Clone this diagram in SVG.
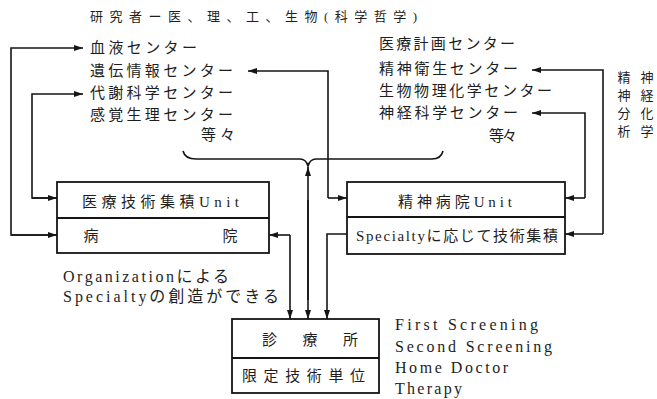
<svg xmlns="http://www.w3.org/2000/svg" width="657" height="399" viewBox="0 0 657 399">
<style>
  .t { font-family: "Liberation Serif", "Noto Sans CJK JP", serif; fill: #1e1e1e; }
  .j14 { font-size: 15px; }
  .j13 { font-size: 13px; }
  .e { font-family: "Liberation Serif", serif; font-size: 16px; fill: #1e1e1e; }
  .box { fill: #fff; stroke: #151515; stroke-width: 1.8; }
  .div { stroke: #151515; stroke-width: 1.8; }
  .ln { fill: none; stroke: #151515; stroke-width: 1.6; }
</style>
<defs>
  <marker id="ah" markerUnits="userSpaceOnUse" markerWidth="10" markerHeight="8" refX="9" refY="4" orient="auto">
    <path d="M0,1 L9,4 L0,7 Z" fill="#151515"/>
  </marker>
</defs>
<rect width="657" height="399" fill="#fff"/>

<g id="title">
  <text class="t j13" x="90" y="21" textLength="327" lengthAdjust="spacing">研究者ー医、理、工、生物(科学哲学)</text>
</g>

<g id="left-centers">
  <text class="t j14" x="90" y="53" textLength="107" lengthAdjust="spacing">血液センター</text>
  <text class="t j14" x="90" y="76" textLength="143" lengthAdjust="spacing">遺伝情報センター</text>
  <text class="t j14" x="90" y="98" textLength="143" lengthAdjust="spacing">代謝科学センター</text>
  <text class="t j14" x="90" y="120" textLength="143" lengthAdjust="spacing">感覚生理センター</text>
  <text class="t j14" x="201" y="140" textLength="34" lengthAdjust="spacing">等々</text>
</g>

<g id="right-centers">
  <text class="t j14" x="379" y="49" textLength="136" lengthAdjust="spacing">医療計画センター</text>
  <text class="t j14" x="379" y="74" textLength="139" lengthAdjust="spacing">精神衛生センター</text>
  <text class="t j14" x="379" y="96" textLength="173" lengthAdjust="spacing">生物物理化学センター</text>
  <text class="t j14" x="379" y="118" textLength="139" lengthAdjust="spacing">神経科学センター</text>
  <text class="t j14" x="489" y="141" textLength="28" lengthAdjust="spacing">等々</text>
</g>

<g id="vertical-label">
  <text class="t j13" text-anchor="middle"><tspan x="624" y="82">精</tspan><tspan x="624" y="100">神</tspan><tspan x="624" y="118">分</tspan><tspan x="624" y="136">析</tspan></text>
  <text class="t j13" text-anchor="middle"><tspan x="647" y="82">神</tspan><tspan x="647" y="100">経</tspan><tspan x="647" y="118">化</tspan><tspan x="647" y="136">学</tspan></text>
</g>

<g id="brace">
  <path class="ln" d="M183,151 Q185,159 196,159 L300,159 Q306,159 308,166 Q310,159 316,159 L432,159 Q441,159 443,151"/>
</g>

<g id="node-left">
  <rect class="box" x="57" y="182" width="212" height="71"/>
  <line class="div" x1="57" y1="218" x2="269" y2="218"/>
  <text class="t j14" x="82" y="207" textLength="157" lengthAdjust="spacing">医療技術集積Unit</text>
  <text class="t j14" x="91" y="241" text-anchor="middle">病</text>
  <text class="t j14" x="230" y="241" text-anchor="middle">院</text>
</g>

<g id="node-right">
  <rect class="box" x="347" y="182" width="218" height="72"/>
  <line class="div" x1="347" y1="217" x2="565" y2="217"/>
  <text class="t j14" x="398" y="207" textLength="114" lengthAdjust="spacing">精神病院Unit</text>
  <text class="t j14" x="356" y="241" textLength="202" lengthAdjust="spacing">Specialtyに応じて技術集積</text>
</g>

<g id="node-bottom">
  <rect class="box" x="232" y="319" width="147" height="74"/>
  <line class="div" x1="232" y1="358" x2="379" y2="358"/>
  <text class="t j14" x="262" y="345" textLength="96" lengthAdjust="spacing">診 療 所</text>
  <text class="t j14" x="242" y="381" textLength="123" lengthAdjust="spacing">限定技術単位</text>
</g>

<g id="note">
  <text class="t" font-size="16" x="63" y="282" textLength="166" lengthAdjust="spacing">Organizationによる</text>
  <text class="t" font-size="16" x="63" y="302" textLength="216" lengthAdjust="spacing">Specialtyの創造ができる</text>
</g>

<g id="roles">
  <text class="e" x="395" y="330" textLength="143" lengthAdjust="spacing">First Screening</text>
  <text class="e" x="395" y="352" textLength="157" lengthAdjust="spacing">Second Screening</text>
  <text class="e" x="395" y="373" textLength="113" lengthAdjust="spacing">Home Doctor</text>
  <text class="e" x="395" y="394" textLength="67" lengthAdjust="spacing">Therapy</text>
</g>

<g id="connectors">
  <path class="ln" d="M57,235 L11,235 L11,48 L83,48" marker-end="url(#ah)"/>
  <path class="ln" d="M11,235 L57,235" marker-end="url(#ah)"/>
  <path class="ln" d="M57,198 L32,198 L32,94 L83,94" marker-end="url(#ah)"/>
  <path class="ln" d="M32,198 L57,198" marker-end="url(#ah)"/>
  <path class="ln" d="M290,235 L269,235" marker-end="url(#ah)"/>
  <path class="ln" d="M290,235 L290,319" marker-end="url(#ah)"/>
  <path class="ln" d="M308,300 L308,167" marker-end="url(#ah)"/>
  <path class="ln" d="M308,200 L308,319" marker-end="url(#ah)"/>
  <path class="ln" d="M328,198 L328,71 L248,71" marker-end="url(#ah)"/>
  <path class="ln" d="M328,198 L347,198" marker-end="url(#ah)"/>
  <path class="ln" d="M347,234 L327,234 L327,319" marker-end="url(#ah)"/>
  <path class="ln" d="M603,234 L603,70 L532,70" marker-end="url(#ah)"/>
  <path class="ln" d="M603,234 L565,234" marker-end="url(#ah)"/>
  <path class="ln" d="M585,198 L585,113 L532,113" marker-end="url(#ah)"/>
  <path class="ln" d="M585,198 L565,198" marker-end="url(#ah)"/>
</g>
</svg>
